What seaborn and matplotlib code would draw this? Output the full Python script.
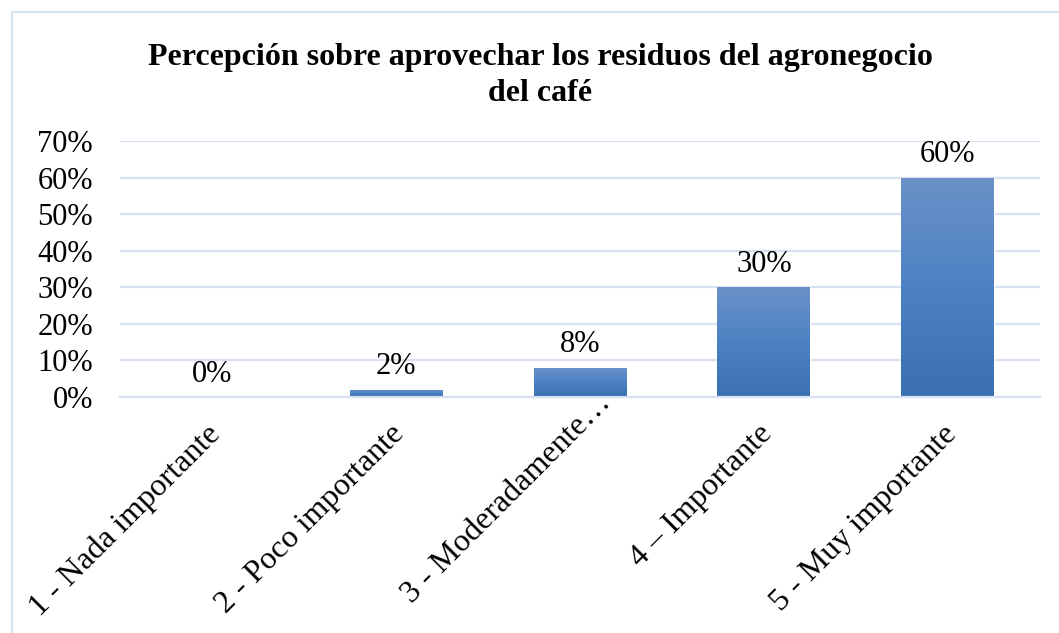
import numpy as np
import pandas as pd
import matplotlib
matplotlib.use("Agg")
import matplotlib.pyplot as plt
import matplotlib.transforms as mtransforms
from matplotlib.patches import Rectangle
from matplotlib.colors import LinearSegmentedColormap
import seaborn as sns

# Data
categorias = ["1 - Nada importante", "2 - Poco importante", "3 - Moderadamente…",
              "4 – Importante", "5 - Muy importante"]
porcentajes = [0.00, 0.02, 0.08, 0.30, 0.60]
etiquetas = ["0%", "2%", "8%", "30%", "60%"]
ticks_y = [0, 0.1, 0.2, 0.3, 0.4, 0.5, 0.6, 0.7]
titulo = "Percepción sobre aprovechar los residuos del agronegocio\ndel café"

sns.set_style("white")
plt.rcParams["font.family"] = ["Liberation Serif", "DejaVu Serif"]
plt.rcParams["text.color"] = "black"
plt.rcParams["xtick.color"] = "black"
plt.rcParams["ytick.color"] = "black"

data = pd.DataFrame({"categoria": categorias, "valor": porcentajes})

fig = plt.figure(figsize=(10.59, 6.33), dpi=100)
ax = fig.add_axes([0.1133, 0.3728, 0.8687, 0.4045])

sns.barplot(data=data, x="categoria", y="valor", color="#4A7EC0", width=0.505,
            ax=ax, saturation=1)

# gradient fill on each bar
cmap = LinearSegmentedColormap.from_list("grad", ["#3A6FB0", "#4C82C4", "#6B91C8"])
grad = np.linspace(0, 1, 256).reshape(-1, 1)
for p in ax.patches:
    x0, y0 = p.get_x(), p.get_y()
    w, h = p.get_width(), p.get_height()
    if h <= 0:
        continue
    im = ax.imshow(grad, cmap=cmap, aspect="auto", origin="lower",
                   extent=[x0, x0 + w, y0, y0 + h], zorder=p.get_zorder() + 0.1)
    im.set_clip_path(p)

ax.set_xlim(-0.5, 4.5)
ax.set_ylim(0, 0.7)
ax.set_yticks(ticks_y)
ax.set_yticklabels([f"{int(round(t * 100))}%" for t in ticks_y], fontsize=22)
ax.set_xlabel("")
ax.set_ylabel("")
ax.yaxis.grid(True, color="#D6E1F1", linewidth=1.6)
ax.set_axisbelow(True)
for s in ["top", "right", "left"]:
    ax.spines[s].set_visible(False)
ax.spines["bottom"].set_color("#D6E1F1")
ax.spines["bottom"].set_linewidth(1.6)
ax.tick_params(axis="both", length=0)
ax.tick_params(axis="y", pad=19.5)

ax.set_xticks(range(len(categorias)))
ax.set_xticklabels(categorias, rotation=45, ha="right", rotation_mode="anchor",
                   fontsize=23)
ax.tick_params(axis="x", pad=14)
# excel places the truncated label a bit further up/right
desplazamientos = [(-6, -3), (-6, -3), (16, 28), (-6, -3), (-6, -3)]
for lab, (dx, dy) in zip(ax.get_xticklabels(), desplazamientos):
    shift = mtransforms.ScaledTranslation(dx / 100, dy / 100, fig.dpi_scale_trans)
    lab.set_transform(lab.get_transform() + shift)

for i, (v, t) in enumerate(zip(porcentajes, etiquetas)):
    ax.annotate(t, (i, v), xytext=(0, 6), textcoords="offset points",
                ha="center", va="bottom", fontsize=22)

fig.text(0.51, 0.881, titulo, ha="center", va="center", fontsize=23,
         fontweight="bold", linespacing=1.32)

# chart frame (cropped on the right and bottom)
fig.patches.append(Rectangle((12 / 1059, -0.1), 1.2, 1 - 12 / 633 + 0.1,
                             transform=fig.transFigure, fill=False,
                             edgecolor="#D6E1F1", linewidth=1.5))

fig.savefig("out.png", dpi=100)
